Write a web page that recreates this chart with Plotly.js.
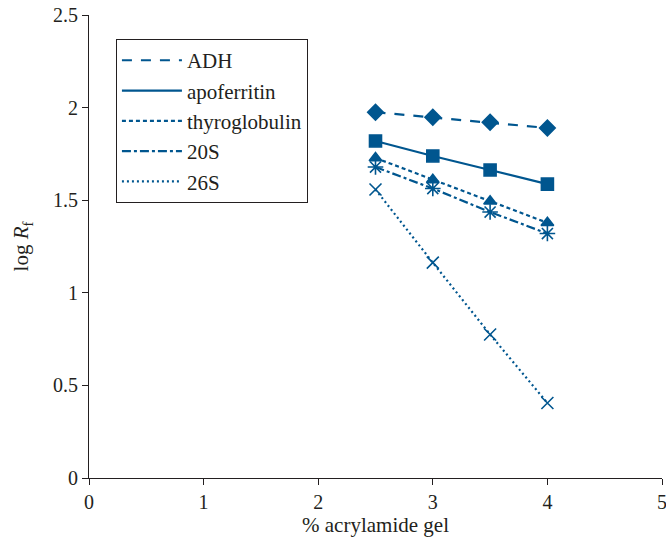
<!DOCTYPE html>
<html>
<head>
<meta charset="utf-8">
<script src="https://cdn.plot.ly/plotly-3.0.1.min.js"></script>
<style>html,body{margin:0;padding:0;background:#fff;}#chart{width:666px;height:546px;}</style>
</head>
<body>
<div id="chart"></div>
<script>
const gel = [2.5, 3, 3.5, 4];
const seriesNames = ["ADH", "apoferritin", "thyroglobulin", "20S", "26S"];
const adh = [1.975, 1.948, 1.921, 1.890];
const apoferritin = [1.820, 1.739, 1.663, 1.587];
const thyroglobulin = [1.728, 1.610, 1.494, 1.378];
const s20 = [1.679, 1.563, 1.436, 1.320];
const s26 = [1.558, 1.163, 0.775, 0.405];
const xTicks = [0, 1, 2, 3, 4, 5];
const yTicks = [0, 0.5, 1, 1.5, 2, 2.5];

const color = "#00568f";
const values = [adh, apoferritin, thyroglobulin, s20, s26];
const dashes = ["10px,9px", "solid", "4px,3px", "9px,3px,3px,3px", "2px,3px"];
const symbols = ["diamond", "square", "triangle-up", "asterisk-open", "x-thin-open"];
const sizes = [12, 12, 11, 13, 12];

const traces = [];
values.forEach((v, i) => {
  traces.push({
    x: gel, y: v, name: seriesNames[i], mode: "lines", type: "scatter",
    line: {color: color, width: 2.2, dash: dashes[i]},
    hoverinfo: "skip"
  });
});
values.forEach((v, i) => {
  traces.push({
    x: gel, y: v, name: seriesNames[i], mode: "markers", type: "scatter",
    showlegend: false,
    marker: {color: color, symbol: symbols[i], size: sizes[i], line: {color: color, width: 1.6}}
  });
});

const font = {family: "Liberation Serif, DejaVu Serif, serif", color: "#231f20"};
const layout = {
  width: 666, height: 546,
  margin: {l: 89, r: 4, t: 15, b: 68},
  paper_bgcolor: "#fff", plot_bgcolor: "#fff",
  font: Object.assign({size: 20}, font),
  showlegend: true,
  legend: {
    x: 0.047, y: 0.948, xanchor: "left", yanchor: "top",
    bordercolor: "#231f20", borderwidth: 1, bgcolor: "#fff",
    font: Object.assign({size: 21}, font),
    tracegroupgap: 0, itemwidth: 60
  },
  xaxis: {
    range: [0, 5], tickvals: xTicks, ticktext: xTicks.map(String),
    showline: true, linecolor: "#231f20", linewidth: 1,
    ticks: "outside", ticklen: 6, tickcolor: "#231f20",
    showgrid: false, zeroline: false, ticklabeloverflow: "allow",
    tickfont: Object.assign({size: 20}, font),
    title: {text: "% acrylamide gel", font: Object.assign({size: 21}, font), standoff: 4}
  },
  yaxis: {
    range: [0, 2.5], tickvals: yTicks, ticktext: yTicks.map(String),
    showline: true, linecolor: "#231f20", linewidth: 1,
    ticks: "outside", ticklen: 6, tickcolor: "#231f20",
    showgrid: false, zeroline: false,
    tickfont: Object.assign({size: 20}, font),
    title: {text: "log <i>R</i><sub>f</sub>", font: Object.assign({size: 21}, font), standoff: 18}
  }
};
Plotly.newPlot("chart", traces, layout, {displayModeBar: false, staticPlot: true});
</script>
</body>
</html>
